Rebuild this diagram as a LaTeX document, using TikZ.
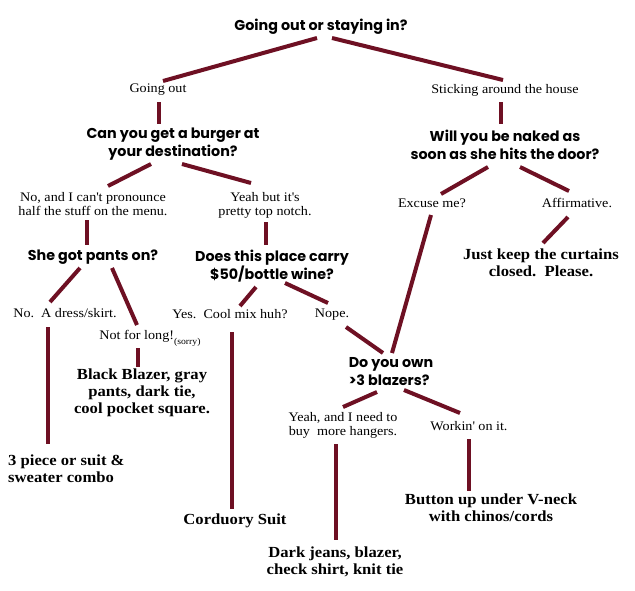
\documentclass[tikz,border=0pt]{standalone}
\usepackage{fontspec}
\setmainfont[FakeStretch=1.08]{Liberation Serif}
\newfontfamily\gothic{Poppins}
\definecolor{maroon}{HTML}{6E1023}
\tikzset{
  link/.style={draw=maroon, line width=4pt},
  q/.style={font=\gothic\bfseries\fontsize{14.3}{18}\selectfont, align=center, inner sep=0pt},
  ans/.style={font=\fontsize{13.1}{14}\selectfont, align=center, inner sep=0pt},
  res/.style={font=\bfseries\fontsize{15.4}{17}\selectfont, align=center, inner sep=0pt}
}
\begin{document}
\begin{tikzpicture}[x=1pt,y=-1pt]
\fill[white] (0,0) rectangle (635,590);
\useasboundingbox (0,0) rectangle (635,590);
% questions
\node[q] (root) at (321,27) {Going out or staying in?};
\node[q] (burger) at (173,144) {Can you get a burger at\\your destination?};
\node[q] (naked) at (505,145) {Will you be naked as\\soon as she hits the door?};
\node[q] (pants) at (93,257) {She got pants on?};
\node[q] (wine) at (272,266) {Does this place carry\\\$50/bottle wine?};
\node[q, align=left] (blazers) at (391,372) {Do you own\\>3 blazers?};
% answers
\node[ans] (out) at (158,90) {Going out};
\node[ans] (stay) at (505,90) {Sticking around the house};
\node[ans] (no1) at (93,204) {No, and I can\textquotesingle t pronounce\\half the stuff on the menu.};
\node[ans] (yeah1) at (265,205) {Yeah but it\textquotesingle s\\pretty top notch.};
\node[ans] (excuse) at (432,203) {Excuse me?};
\node[ans] (affirm) at (577,203) {Affirmative.};
\node[ans] (dress) at (65,313) {No.~~A dress/skirt.};
\node[ans] (notlong) at (150,338) {Not for long!\raisebox{-5pt}{\fontsize{9}{10}\selectfont(sorry)}};
\node[ans] (yes) at (230,314) {Yes.~~Cool mix huh?};
\node[ans] (nope) at (332,315) {Nope.};
\node[ans] (hangers) at (343,425) {Yeah, and I need to\\buy~~more hangers.};
\node[ans] (workin) at (469,426) {Workin\textquotesingle\ on it.};
% results
\node[res] (curtains) at (541,263) {Just keep the curtains\\closed.~~Please.};
\node[res] (blackblazer) at (142,393) {Black Blazer, gray\\pants, dark tie,\\cool pocket square.};
\node[res, align=left, anchor=west] (piece) at (8,469) {3 piece or suit \&\\sweater combo};
\node[res] (corduroy) at (235,521) {Corduory Suit};
\node[res] (button) at (491,508) {Button up under V-neck\\with chinos/cords};
\node[res] (darkjeans) at (335,562) {Dark jeans, blazer,\\check shirt, knit tie};
% connectors
\draw[link] ([shift={(-4,11)}]root.center) -- ([shift={(5,-9)}]out.center);
\draw[link] ([shift={(11,11)}]root.center) -- ([shift={(-2,-10)}]stay.center);
\draw[link] ([shift={(1,12)}]out.center) -- ([shift={(-14,-20)}]burger.center);
\draw[link] ([shift={(-4,12)}]stay.center) -- ([shift={(-4,-21)}]naked.center);
\draw[link] ([shift={(-22,20)}]burger.center) -- ([shift={(15,-18)}]no1.center);
\draw[link] ([shift={(9,20)}]burger.center) -- ([shift={(-14,-22)}]yeah1.center);
\draw[link] ([shift={(-17,22)}]naked.center) -- ([shift={(9,-9)}]excuse.center);
\draw[link] ([shift={(15,22)}]naked.center) -- ([shift={(-8,-12)}]affirm.center);
\draw[link] ([shift={(-9,14)}]affirm.center) -- ([shift={(2,-20)}]curtains.center);
\draw[link] ([shift={(-1,12)}]excuse.center) -- ([shift={(1,-19)}]blazers.center);
\draw[link] ([shift={(-6,16)}]no1.center) -- ([shift={(-6,-12)}]pants.center);
\draw[link] ([shift={(1,17)}]yeah1.center) -- ([shift={(-6,-21)}]wine.center);
\draw[link] ([shift={(-13,11)}]pants.center) -- ([shift={(-15,-11)}]dress.center);
\draw[link] ([shift={(19,11)}]pants.center) -- ([shift={(-13,-13)}]notlong.center);
\draw[link] ([shift={(-12,10)}]notlong.center) -- ([shift={(-4,-26)}]blackblazer.center);
\draw[link] ([shift={(-17,14)}]dress.center) -- ([shift={(40,-25)}]piece.west);
\draw[link] ([shift={(-16,21)}]wine.center) -- ([shift={(10,-8)}]yes.center);
\draw[link] ([shift={(13,17)}]wine.center) -- ([shift={(-4,-12)}]nope.center);
\draw[link] ([shift={(14,12)}]nope.center) -- ([shift={(-8,-19)}]blazers.center);
\draw[link] ([shift={(2,18)}]yes.center) -- ([shift={(-3,-12)}]corduroy.center);
\draw[link] ([shift={(-14,20)}]blazers.center) -- ([shift={(0,-18)}]hangers.center);
\draw[link] ([shift={(13,18)}]blazers.center) -- ([shift={(-9,-13)}]workin.center);
\draw[link] ([shift={(-7,19)}]hangers.center) -- ([shift={(1,-22)}]darkjeans.center);
\draw[link] ([shift={(0,13)}]workin.center) -- ([shift={(-22,-17)}]button.center);
\end{tikzpicture}
\end{document}
